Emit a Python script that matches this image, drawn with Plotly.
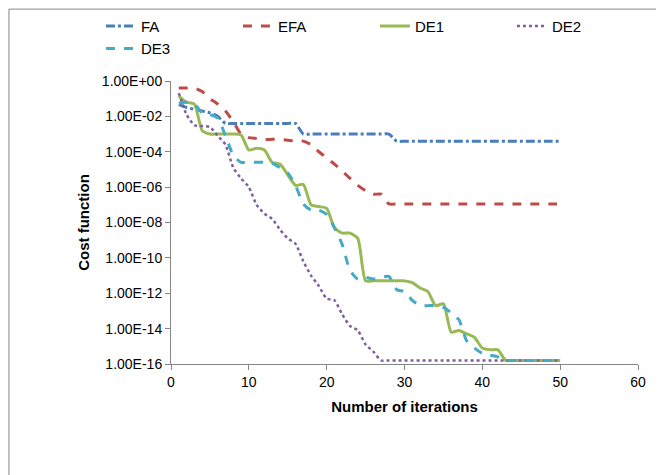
import plotly.graph_objects as go

iterations = list(range(1, 51))

# log10 of cost function
fa_log = [-1.34, -1.5, -1.6, -1.7, -1.8, -2.0, -2.4, -2.4, -2.4, -2.4, -2.4, -2.4, -2.4, -2.4, -2.4, -2.4,
          -3.0, -3.0, -3.0, -3.0, -3.0, -3.0, -3.0, -3.0, -3.0, -3.0, -3.0, -3.0] + [-3.4] * 22
efa_log = [-0.4, -0.4, -0.4, -0.6, -1.0, -1.3, -1.7, -2.3, -3.0, -3.2, -3.25, -3.3, -3.3, -3.3, -3.35,
           -3.4, -3.4, -3.6, -4.0, -4.35, -4.7, -5.1, -5.5, -5.9, -6.2, -6.4, -6.4, -6.95] + [-6.95] * 22
de1_log = [-0.85, -1.2, -1.3, -2.8, -3.0, -3.0, -3.0, -3.0, -3.05, -3.9, -3.8, -3.9, -4.6, -4.7, -5.3,
           -5.9, -5.85, -7.0, -7.1, -7.2, -8.3, -8.6, -8.6, -8.9, -11.3, -11.3, -11.3, -11.3, -11.3, -11.3,
           -11.4, -11.7, -11.9, -12.7, -12.6, -14.2, -14.1, -14.3, -14.5, -15.1, -15.2, -15.2] + [-15.8] * 8
de2_log = [-0.68, -1.9, -2.5, -2.55, -2.6, -3.1, -3.6, -4.9, -5.5, -6.0, -7.0, -7.5, -7.8, -8.4, -8.9,
           -9.2, -10.2, -11.0, -11.6, -12.3, -12.4, -13.2, -13.85, -14.1, -14.9, -15.3] + [-15.8] * 24
de3_log = [-1.24, -1.2, -1.3, -1.8, -1.9, -2.1, -3.1, -4.2, -4.6, -4.6, -4.6, -4.6, -4.65, -4.9, -5.2,
           -5.9, -6.95, -7.3, -7.3, -7.55, -8.3, -9.25, -10.7, -11.2, -11.1, -11.2, -11.1, -11.05, -11.8,
           -11.9, -12.4, -12.7, -12.7, -12.7, -12.8, -13.1, -13.5, -14.7, -15.1, -15.4, -15.5, -15.6] + [-15.8] * 8

series = [
    ("FA", fa_log, "#4A7EBB", "dashdot", 3),
    ("EFA", efa_log, "#BE4B48", "dash", 3),
    ("DE1", de1_log, "#98B954", "solid", 3),
    ("DE2", de2_log, "#7D60A0", "dot", 2.5),
    ("DE3", de3_log, "#46AAC5", "dash", 3),
]

y_tickvals = [10 ** -k for k in range(0, 17, 2)]
y_ticktext = ["1.00E+00"] + ["1.00E-%02d" % k for k in range(2, 17, 2)]

fig = go.Figure()
for name, vals, color, dash, width in series:
    fig.add_trace(go.Scatter(
        x=iterations, y=[10 ** v for v in vals], name=name, mode="lines",
        line=dict(color=color, dash=dash, width=width, shape="spline", smoothing=0.6)))

fig.update_layout(
    width=664, height=475,
    margin=dict(l=163, r=34, t=73, b=119, autoexpand=False),
    paper_bgcolor="white", plot_bgcolor="white",
    font=dict(family="Liberation Sans", size=14, color="black"),
    legend=dict(orientation="h", x=-0.15, y=1.155, xanchor="left", yanchor="middle",
                entrywidth=92, entrywidthmode="pixels", font=dict(size=15)),
    xaxis=dict(range=[0, 60], dtick=10, showgrid=False, showline=True, linecolor="#868686",
               ticks="outside", tickcolor="#868686", ticklen=5, zeroline=False,
               title=dict(text="<b>Number of iterations</b>", font=dict(size=15), standoff=12)),
    yaxis=dict(type="log", range=[-16, 0], tickvals=y_tickvals, ticktext=y_ticktext,
               showgrid=False, showline=True, linecolor="#868686", ticks="outside",
               tickcolor="#868686", ticklen=5,
               title=dict(text="<b>Cost function</b>", font=dict(size=15), standoff=8)),
    shapes=[dict(type="rect", xref="paper", yref="paper", x0=-0.347, x1=1.071, y0=-0.417, y1=1.254,
                 line=dict(color="#868686", width=1))],
)

fig.write_html("out.html")
